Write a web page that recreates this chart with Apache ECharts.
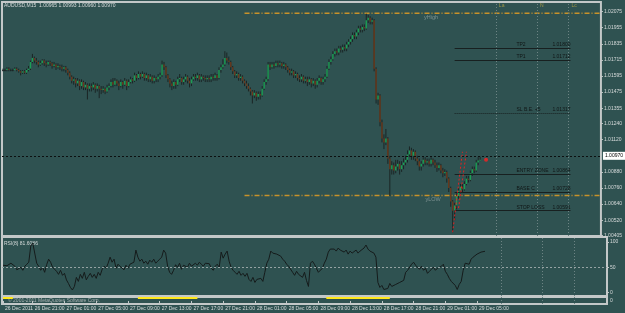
<!DOCTYPE html>
<html>
<head>
<meta charset="utf-8">
<script src="https://cdn.jsdelivr.net/npm/echarts@6/dist/echarts.min.js"></script>
<style>
html, body { margin: 0; padding: 0; background: #2f5251; }
#chart { width: 625px; height: 313px; }
</style>
</head>
<body>
<div id="chart"></div>
<script>
// header texts
const symbolInfo = 'AUDUSD,M15  1.00965 1.00993 1.00960 1.00970'
const rsiInfo = 'RSI(8) 81.6086'
const copyright = '\u00a9 2001-2011 MetaQuotes Software Corp.'

// M15 bars, first open then closes / highs / lows
const firstOpen = 1.0164
const closes = [
  1.0164,1.0164,1.0165,1.0164,1.0164,1.0164,1.0165,1.0164,1.0163,1.0162,
  1.0163,1.0162,1.0164,1.0165,1.0170,1.0173,1.0171,1.0170,1.0168,1.0169,
  1.0171,1.0169,1.0168,1.0170,1.0169,1.0167,1.0168,1.0166,1.0167,1.0166,
  1.0165,1.0166,1.0164,1.0162,1.0159,1.0156,1.0157,1.0154,1.0156,1.0152,
  1.0155,1.0151,1.0153,1.0150,1.0152,1.0151,1.0153,1.0150,1.0152,1.0150,
  1.0149,1.0150,1.0148,1.0151,1.0152,1.0155,1.0153,1.0156,1.0154,1.0152,
  1.0155,1.0153,1.0156,1.0152,1.0155,1.0157,1.0156,1.0160,1.0158,1.0161,
  1.0159,1.0161,1.0158,1.0160,1.0157,1.0159,1.0156,1.0158,1.0157,1.0159,
  1.0160,1.0168,1.0166,1.0160,1.0157,1.0154,1.0152,1.0155,1.0153,1.0157,
  1.0158,1.0155,1.0157,1.0159,1.0156,1.0154,1.0157,1.0159,1.0158,1.0160,
  1.0157,1.0159,1.0158,1.0157,1.0158,1.0157,1.0159,1.0158,1.0160,1.0158,
  1.0164,1.0166,1.0168,1.0173,1.0171,1.0170,1.0166,1.0163,1.0160,1.0161,
  1.0158,1.0159,1.0156,1.0154,1.0152,1.0150,1.0148,1.0145,1.0147,1.0144,
  1.0146,1.0145,1.0150,1.0155,1.0157,1.0168,1.0166,1.0168,1.0167,1.0169,
  1.0168,1.0169,1.0167,1.0168,1.0166,1.0164,1.0162,1.0163,1.0160,1.0161,
  1.0158,1.0157,1.0159,1.0156,1.0157,1.0155,1.0157,1.0154,1.0156,1.0153,
  1.0156,1.0158,1.0155,1.0157,1.0159,1.0165,1.0170,1.0172,1.0176,1.0178,
  1.0177,1.0180,1.0179,1.0181,1.0180,1.0183,1.0185,1.0187,1.0190,1.0189,
  1.0192,1.0195,1.0194,1.0196,1.0195,1.0201,1.0203,1.0200,1.0201,1.0165,
  1.0142,1.0145,1.0125,1.0113,1.0110,1.0113,1.0098,1.0090,1.0093,1.0089,
  1.0092,1.0094,1.0090,1.0093,1.0095,1.0097,1.0101,1.0104,1.0100,1.0103,
  1.0098,1.0096,1.0092,1.0094,1.0097,1.0095,1.0096,1.0094,1.0097,1.0095,
  1.0093,1.0091,1.0093,1.0089,1.0087,1.0088,1.0083,1.0076,1.0066,1.0059,
  1.0063,1.0070,1.0074,1.0077,1.0075,1.0079,1.0083,1.0082,1.0087,1.0090,
  1.0089,1.0095,1.00965,1.0097
]
const highs = [
  1.0165,1.0165,1.0166,1.0166,1.0165,1.0165,1.0166,1.0166,1.0165,1.0164,
  1.0164,1.0164,1.0165,1.0167,1.0171,1.0176,1.0174,1.0173,1.0171,1.0171,
  1.0172,1.0172,1.0171,1.0171,1.0171,1.0170,1.0170,1.0169,1.0169,1.0168,
  1.0168,1.0167,1.0167,1.0165,1.0163,1.0160,1.0159,1.0158,1.0158,1.0157,
  1.0157,1.0156,1.0155,1.0154,1.0154,1.0154,1.0155,1.0154,1.0154,1.0153,
  1.0152,1.0152,1.0151,1.0153,1.0154,1.0157,1.0158,1.0158,1.0157,1.0156,
  1.0157,1.0156,1.0158,1.0157,1.0157,1.0159,1.0158,1.0162,1.0161,1.0163,
  1.0162,1.0163,1.0162,1.0162,1.0161,1.0161,1.0160,1.0160,1.0159,1.0161,
  1.0162,1.0171,1.0170,1.0167,1.0161,1.0158,1.0156,1.0157,1.0156,1.0159,
  1.0161,1.0159,1.0159,1.0161,1.0160,1.0158,1.0159,1.0161,1.0161,1.0162,
  1.0161,1.0161,1.0160,1.0160,1.0160,1.0160,1.0161,1.0161,1.0162,1.0161,
  1.0166,1.0168,1.0172,1.0178,1.0177,1.0174,1.0171,1.0167,1.0164,1.0163,
  1.0162,1.0161,1.0160,1.0157,1.0156,1.0154,1.0151,1.0149,1.0149,1.0148,
  1.0148,1.0148,1.0152,1.0157,1.0159,1.0170,1.0170,1.0170,1.0170,1.0171,
  1.0171,1.0171,1.0170,1.0170,1.0169,1.0167,1.0165,1.0165,1.0164,1.0163,
  1.0162,1.0160,1.0161,1.0160,1.0159,1.0159,1.0159,1.0158,1.0158,1.0157,
  1.0158,1.0160,1.0159,1.0159,1.0161,1.0167,1.0172,1.0174,1.0178,1.0180,
  1.0180,1.0182,1.0182,1.0183,1.0183,1.0185,1.0187,1.0189,1.0192,1.0192,
  1.0194,1.0197,1.0197,1.0198,1.0198,1.0206,1.0205,1.0204,1.0203,1.0202,
  1.0166,1.0147,1.0146,1.0127,1.0116,1.0120,1.0114,1.0100,1.0096,1.0095,
  1.0097,1.0097,1.0096,1.0096,1.0098,1.0100,1.0104,1.0107,1.0106,1.0105,
  1.0104,1.0100,1.0098,1.0096,1.0099,1.0099,1.0098,1.0098,1.0099,1.0098,
  1.0097,1.0095,1.0095,1.0094,1.0091,1.0090,1.0089,1.0084,1.0077,1.0067,
  1.0065,1.0072,1.0076,1.0079,1.0079,1.0081,1.0085,1.0085,1.0089,1.0092,
  1.0092,1.0097,1.0099,1.00993
]
const lows = [
  1.0163,1.0163,1.0163,1.0163,1.0163,1.0163,1.0164,1.0163,1.0162,1.0160,
  1.0161,1.0161,1.0161,1.0163,1.0164,1.0169,1.0169,1.0168,1.0166,1.0167,
  1.0168,1.0167,1.0166,1.0167,1.0167,1.0165,1.0166,1.0164,1.0165,1.0164,
  1.0163,1.0163,1.0162,1.0160,1.0157,1.0154,1.0153,1.0151,1.0152,1.0149,
  1.0150,1.0149,1.0149,1.0142,1.0148,1.0148,1.0149,1.0147,1.0148,1.0143,
  1.0146,1.0147,1.0146,1.0147,1.0149,1.0151,1.0151,1.0152,1.0152,1.0149,
  1.0151,1.0150,1.0152,1.0149,1.0151,1.0154,1.0154,1.0155,1.0156,1.0157,
  1.0157,1.0158,1.0156,1.0156,1.0155,1.0155,1.0154,1.0154,1.0155,1.0155,
  1.0157,1.0159,1.0164,1.0158,1.0155,1.0151,1.0149,1.0150,1.0150,1.0152,
  1.0155,1.0153,1.0153,1.0155,1.0154,1.0151,1.0152,1.0156,1.0156,1.0156,
  1.0155,1.0155,1.0156,1.0155,1.0155,1.0155,1.0155,1.0156,1.0156,1.0156,
  1.0157,1.0162,1.0165,1.0167,1.0169,1.0168,1.0164,1.0161,1.0158,1.0158,
  1.0156,1.0156,1.0154,1.0152,1.0150,1.0148,1.0145,1.0139,1.0143,1.0141,
  1.0142,1.0142,1.0144,1.0149,1.0153,1.0156,1.0164,1.0165,1.0165,1.0166,
  1.0166,1.0166,1.0165,1.0165,1.0164,1.0162,1.0160,1.0160,1.0158,1.0158,
  1.0156,1.0155,1.0155,1.0154,1.0154,1.0152,1.0153,1.0151,1.0152,1.0150,
  1.0151,1.0154,1.0153,1.0153,1.0155,1.0158,1.0164,1.0168,1.0171,1.0174,
  1.0175,1.0175,1.0177,1.0177,1.0178,1.0178,1.0181,1.0183,1.0185,1.0187,
  1.0187,1.0190,1.0192,1.0192,1.0193,1.0194,1.0199,1.0198,1.0198,1.0163,
  1.0139,1.0138,1.0122,1.0110,1.0105,1.0108,1.0094,1.0070,1.0086,1.0086,
  1.0087,1.0089,1.0086,1.0088,1.0090,1.0093,1.0095,1.0099,1.0097,1.0097,
  1.0096,1.0093,1.0089,1.0089,1.0092,1.0093,1.0093,1.0092,1.0092,1.0093,
  1.0091,1.0088,1.0089,1.0087,1.0084,1.0085,1.0080,1.0073,1.0062,1.0043,
  1.0052,1.0060,1.0068,1.0072,1.0073,1.0074,1.0078,1.0080,1.0081,1.0085,
  1.0087,1.0088,1.0093,1.0096
]

const rsi = [
  54,55,53,56,58,60,52,45,48,50,
  44,52,56,60,92,98,95,58,52,44,
  50,40,55,66,60,50,46,42,36,44,
  34,38,25,18,10,5,12,30,22,36,
  28,40,25,32,38,30,36,28,40,34,
  46,52,48,58,70,60,66,48,56,52,
  50,45,54,48,56,58,60,84,70,62,
  66,58,62,56,64,60,66,58,62,66,
  70,84,78,52,40,36,44,55,50,58,
  46,54,56,50,58,52,55,58,54,60,
  56,52,58,55,57,48,44,52,56,50,
  80,68,76,82,62,50,44,40,36,42,
  34,38,32,38,26,22,30,20,26,24,
  28,22,40,58,66,82,78,80,76,78,
  72,66,62,56,52,46,40,34,42,36,
  38,30,40,24,12,58,62,56,48,40,
  38,48,58,66,80,86,88,86,82,88,
  84,86,80,84,76,82,78,80,84,78,
  82,80,88,94,86,82,84,78,70,20,
  10,14,6,4,8,18,12,10,16,14,
  20,18,24,40,44,46,56,60,54,50,
  46,52,44,48,38,42,46,50,44,48,
  46,52,56,42,36,28,22,20,14,6,
  16,22,44,58,60,56,66,70,72,76,
  78,80,82,81.6086
]

// bar ranges where the bottom indicator is on
const signalRanges = [[0, 5], [68, 98], [163, 195]]

const timeTicks = ['26 Dec 2011', '26 Dec 21:00', '27 Dec 01:00', '27 Dec 05:00', '27 Dec 09:00', '27 Dec 13:00',
  '27 Dec 17:00', '27 Dec 21:00', '28 Dec 01:00', '28 Dec 05:00', '28 Dec 09:00', '28 Dec 13:00',
  '28 Dec 17:00', '28 Dec 21:00', '29 Dec 01:00', '29 Dec 05:00']
const priceTicks = [1.02075, 1.01955, 1.01835, 1.01715, 1.01595, 1.01475, 1.01355, 1.01240, 1.01120,
  1.00880, 1.00760, 1.00640, 1.00520, 1.00405]
const rsiTicks = [0, 50, 100]

const levelNames = ['TP2', 'TP1', 'SL B.E. +5', 'ENTRY ZONE', 'BASE C', 'STOP LOSS']
const levelPrices = [1.01800, 1.01712, 1.01317, 1.00864, 1.00728, 1.00591]
const dayHigh = 1.02063
const dayLow = 1.00704
const dayStartBar = 123
const bidPrice = 1.00970
const markerNames = ['La', 'N', 'Lc']
const markerBars = [251, 272, 288]
const trendLines = [[[229, 1.0043], [234, 1.0103]], [[232, 1.0061], [236, 1.0103]]]
const signalDot = [246, 1.0097]

// time axis: M15 bars from 26 Dec 17:15 plus the empty shift on the right
const startTime = Date.UTC(2011, 11, 26, 17, 15)
const totalBars = 305
const months = ['Jan','Feb','Mar','Apr','May','Jun','Jul','Aug','Sep','Oct','Nov','Dec']
const pad = (n) => (n < 10 ? '0' : '') + n
const categories = []
for (let i = 0; i < totalBars; i++) {
  const d = new Date(startTime + i * 15 * 60000)
  categories.push(pad(d.getUTCDate()) + ' ' + months[d.getUTCMonth()] + ' ' + pad(d.getUTCHours()) + ':' + pad(d.getUTCMinutes()))
}
const tickSet = new Set(timeTicks)
const showTick = (idx, val) => idx === 0 || tickSet.has(val)

const bg = '#2f5251'
const frame = '#c3c8c8'
const txt = '#d6dada'
const font = 'Liberation Sans'
const vLine = { color: '#6d8484', type: [1, 2], width: 1 }

const candleData = closes.map((c, i) => [i, i ? closes[i - 1] : firstOpen, c, lows[i], highs[i]])

function candleShape(params, api) {
  const i = api.value(0)
  const o = api.value(1), c = api.value(2)
  const top = api.coord([i, api.value(4)])
  const bot = api.coord([i, api.value(3)])
  const po = api.coord([i, o]), pc = api.coord([i, c])
  const x = top[0]
  const y1 = Math.min(po[1], pc[1]), y2 = Math.max(po[1], pc[1])
  const body = c > o ? '#1c9f55' : c < o ? '#6a391c' : '#1b2525'
  return {
    type: 'group',
    children: [
      { type: 'line', shape: { x1: x, y1: top[1], x2: x, y2: bot[1] }, style: { stroke: '#1b2525', lineWidth: 1 } },
      { type: 'rect', shape: { x: x - 0.7, y: y1, width: 1.4, height: Math.max(y2 - y1, 1) }, style: { fill: body } }
    ]
  }
}

// vertical marker lines, drawn in every pane
const markerMarkLine = () => ({
  silent: true, symbol: ['none', 'none'], label: { show: false },
  lineStyle: vLine,
  data: markerBars.map((b) => ({ xAxis: categories[b] }))
})

const signalData = categories.map((_, i) => signalRanges.some(([a, b]) => i >= a && i <= b) ? 1 : null)

const levelLines = levelNames.map((name, k) => [
  {
    coord: [categories[230], levelPrices[k]],
    lineStyle: { color: '#182020', width: 1, type: name.startsWith('SL') ? [1, 1] : 'solid' },
    label: {
      show: true,
      position: 'insideEndTop',
      distance: [0, 1],
      formatter: '{n|' + name + '}{v|' + levelPrices[k].toFixed(5) + '}',
      rich: {
        n: { width: 36, align: 'left', fontSize: 5, color: '#101616', fontFamily: font },
        v: { fontSize: 5, color: '#101616', fontFamily: font }
      }
    }
  },
  { coord: [categories[289], levelPrices[k]] }
])

const redLines = trendLines.map(([a, b]) => [
  { coord: [categories[a[0]], a[1]], lineStyle: { color: '#e42222', width: 1, type: [2, 2] } },
  { coord: [categories[b[0]], b[1]] }
])

// yesterday high / low as plain two-point line series
const dayLineSeries = [dayHigh, dayLow].map((p) => ({
  type: 'line', xAxisIndex: 0, yAxisIndex: 0, z: 2,
  showSymbol: false, symbol: 'none', silent: true,
  lineStyle: { color: '#c8922a', width: 1.5, type: [5, 2, 1, 2] },
  data: [[categories[dayStartBar], p], [categories[totalBars - 1], p]]
}))

const catAxis = (gridIndex, showLabels) => ({
  type: 'category',
  gridIndex,
  data: categories,
  boundaryGap: true,
  axisLine: { show: false },
  axisTick: showLabels
    ? { show: true, interval: showTick, alignWithLabel: true, length: 3, lineStyle: { color: frame } }
    : { show: false },
  axisLabel: showLabels
    ? { show: true, interval: showTick, formatter: (v, i) => (i === 0 ? timeTicks[0] : v), align: 'left', fontSize: 5, color: txt, margin: 2, padding: [0, 0, 0, 2], fontFamily: font }
    : { show: false },
  splitLine: { show: false }
})

const option = {
  backgroundColor: bg,
  animation: false,
  textStyle: { fontFamily: font },
  grid: [
    { left: 2, top: 2, width: 605, height: 234, show: true, borderColor: frame, borderWidth: 2 },
    { left: 2, top: 237, width: 605, height: 59, show: true, borderColor: frame, borderWidth: 2 },
    { left: 2, top: 297, width: 605, height: 7, show: true, borderColor: frame, borderWidth: 2 }
  ],
  xAxis: [catAxis(0, false), catAxis(1, false), catAxis(2, true)],
  yAxis: [
    {
      type: 'value', gridIndex: 0, position: 'right', min: 1.00402, max: 1.02147,
      axisLine: { show: false }, splitLine: { show: false },
      axisTick: { show: true, customValues: priceTicks, length: 2, lineStyle: { color: frame } },
      axisLabel: { customValues: priceTicks, formatter: (v) => v.toFixed(5), fontSize: 5, color: txt, margin: 3 }
    },
    {
      type: 'value', gridIndex: 1, position: 'right', min: -6.9, max: 109.9,
      axisLine: { show: false }, splitLine: { show: false },
      axisTick: { show: true, customValues: rsiTicks, length: 2, lineStyle: { color: frame } },
      axisLabel: { customValues: rsiTicks, fontSize: 5, color: txt, margin: 3 }
    },
    {
      type: 'value', gridIndex: 2, position: 'right', min: -1, max: 1.33,
      axisLine: { show: false }, splitLine: { show: false },
      axisTick: { show: false },
      axisLabel: { customValues: [0], fontSize: 5, color: txt, margin: 3 }
    }
  ],
  series: [
    {
      type: 'custom', name: 'AUDUSD', xAxisIndex: 0, yAxisIndex: 0,
      renderItem: candleShape, clip: true,
      encode: { x: 0, y: [1, 2, 3, 4] },
      data: candleData, z: 3,
      markLine: markerMarkLine()
    },
    ...dayLineSeries,
    {
      type: 'line', xAxisIndex: 0, yAxisIndex: 0, data: [], z: 2,
      markLine: {
        silent: true, symbol: ['none', 'none'], animation: false,
        label: { show: false },
        data: [
          ...levelLines,
          ...redLines,
          {
            yAxis: bidPrice,
            lineStyle: { color: '#0c1010', type: [2, 2], width: 1 },
            label: {
              show: true, position: 'end', distance: 2, formatter: bidPrice.toFixed(5),
              backgroundColor: '#ffffff', color: '#000000', fontSize: 5, padding: [2, 2, 1, 2], fontFamily: font
            }
          }
        ]
      }
    },
    {
      type: 'scatter', xAxisIndex: 0, yAxisIndex: 0, symbolSize: 0, z: 4,
      label: { show: true, position: 'bottom', distance: 1, fontSize: 5.5, color: '#8fa0a0', formatter: (p) => p.data[2] },
      data: [[categories[218], dayHigh, 'yHigh'], [categories[219], dayLow, 'yLOW']]
    },
    {
      type: 'scatter', xAxisIndex: 0, yAxisIndex: 0, symbolSize: 0, z: 4,
      label: { show: true, position: [3, 1], align: 'left', verticalAlign: 'top', fontSize: 5, color: '#b6a646', formatter: (p) => p.data[2] },
      data: markerBars.map((b, k) => [categories[b], 1.02147, markerNames[k]])
    },
    {
      type: 'scatter', xAxisIndex: 0, yAxisIndex: 0, symbolSize: 4, z: 5,
      itemStyle: { color: '#ff2020' },
      data: [[categories[signalDot[0]], signalDot[1]]]
    },
    {
      type: 'line', name: 'RSI', xAxisIndex: 1, yAxisIndex: 1,
      data: rsi, showSymbol: false, symbol: 'none',
      lineStyle: { color: '#151b1b', width: 1 },
      markLine: {
        silent: true, symbol: ['none', 'none'], label: { show: false },
        lineStyle: vLine,
        data: [{ yAxis: 50, lineStyle: { color: '#95a3a3', type: [2, 2], width: 1 } }, ...markerBars.map((b) => ({ xAxis: categories[b] }))]
      }
    },
    {
      type: 'line', xAxisIndex: 2, yAxisIndex: 2,
      data: signalData, showSymbol: false, symbol: 'none', connectNulls: false,
      lineStyle: { color: '#ffe81a', width: 2 },
      markLine: markerMarkLine()
    }
  ],
  graphic: [
    { type: 'text', left: 4, top: 3, style: { text: symbolInfo, fontSize: 5, fill: txt, fontFamily: font } },
    { type: 'text', left: 4, top: 241, style: { text: rsiInfo, fontSize: 5, fill: txt, fontFamily: font } },
    { type: 'text', left: 8, top: 298, style: { text: copyright, fontSize: 5, fill: '#a9b2b2', fontFamily: font } }
  ]
}

const chart = echarts.init(document.getElementById('chart'))
chart.setOption(option)
</script>
</body>
</html>
